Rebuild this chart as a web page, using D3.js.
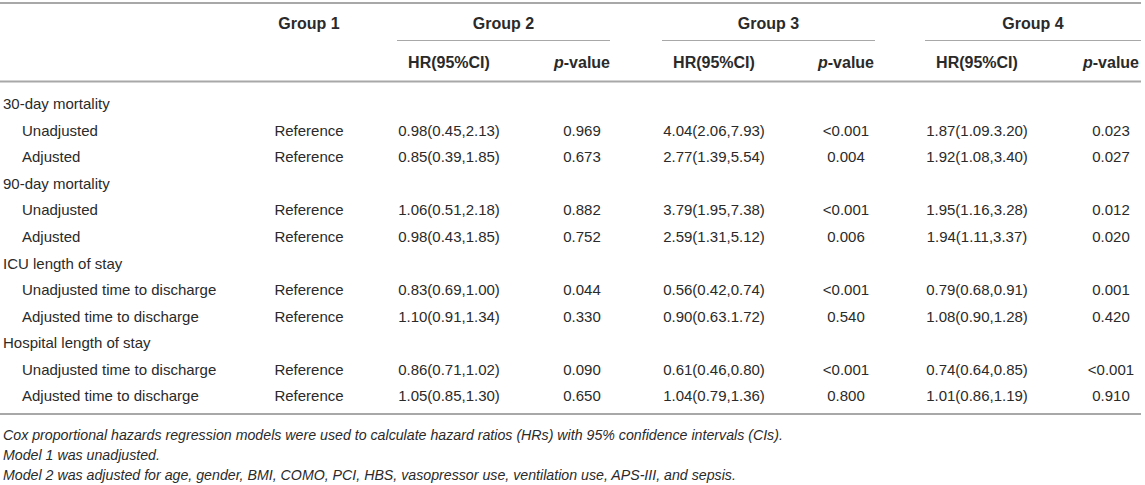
<!DOCTYPE html>
<html><head><meta charset="utf-8">
<script src="https://cdn.jsdelivr.net/npm/d3@7"></script>
<style>
html,body{margin:0;padding:0;background:#fff;}
svg{display:block;font-family:"Liberation Sans",Arial,Helvetica,sans-serif;}
</style></head>
<body><svg id="c" width="1145" height="485"></svg>
<script>
const groups = ["Group 1", "Group 2", "Group 3", "Group 4"];
const subHeaders = ["HR(95%CI)", "p-value"];
const rowLabels = ["30-day mortality", "Unadjusted", "Adjusted", "90-day mortality", "Unadjusted", "Adjusted",
  "ICU length of stay", "Unadjusted time to discharge", "Adjusted time to discharge",
  "Hospital length of stay", "Unadjusted time to discharge", "Adjusted time to discharge"];
const isSection = [true, false, false, true, false, false, true, false, false, true, false, false];
const group1 = ["", "Reference", "Reference", "", "Reference", "Reference", "", "Reference", "Reference", "", "Reference", "Reference"];
const g2HR = ["", "0.98(0.45,2.13)", "0.85(0.39,1.85)", "", "1.06(0.51,2.18)", "0.98(0.43,1.85)", "", "0.83(0.69,1.00)", "1.10(0.91,1.34)", "", "0.86(0.71,1.02)", "1.05(0.85,1.30)"];
const g2P = ["", "0.969", "0.673", "", "0.882", "0.752", "", "0.044", "0.330", "", "0.090", "0.650"];
const g3HR = ["", "4.04(2.06,7.93)", "2.77(1.39,5.54)", "", "3.79(1.95,7.38)", "2.59(1.31,5.12)", "", "0.56(0.42,0.74)", "0.90(0.63.1.72)", "", "0.61(0.46,0.80)", "1.04(0.79,1.36)"];
const g3P = ["", "<0.001", "0.004", "", "<0.001", "0.006", "", "<0.001", "0.540", "", "<0.001", "0.800"];
const g4HR = ["", "1.87(1.09.3.20)", "1.92(1.08,3.40)", "", "1.95(1.16,3.28)", "1.94(1.11,3.37)", "", "0.79(0.68,0.91)", "1.08(0.90,1.28)", "", "0.74(0.64,0.85)", "1.01(0.86,1.19)"];
const g4P = ["", "0.023", "0.027", "", "0.012", "0.020", "", "0.001", "0.420", "", "<0.001", "0.910"];
const notes = ["Cox proportional hazards regression models were used to calculate hazard ratios (HRs) with 95% confidence intervals (CIs).",
  "Model 1 was unadjusted.",
  "Model 2 was adjusted for age, gender, BMI, COMO, PCI, HBS, vasopressor use, ventilation use, APS-III, and sepsis."];

const svg = d3.select("#c");
const ink = "#2a2a2a", rule = "#a8a8a8";
const fs = 15, fsHead = 16, fsNote = 14.2;

// column scale (centers)
const colKeys = ["g1", "g2hr", "g2p", "g3hr", "g3p", "g4hr", "g4p"];
const colX = d3.scaleOrdinal().domain(colKeys).range([309, 449, 582, 714, 846, 977, 1111]);
const colData = {g1: group1, g2hr: g2HR, g2p: g2P, g3hr: g3HR, g3p: g3P, g4hr: g4HR, g4p: g4P};
// group header spans
const spanStart = d3.scaleOrdinal().domain(groups).range([0, 397, 662, 925]);
const spanEnd = d3.scaleOrdinal().domain(groups).range([0, 610, 875, 1141]);

const rowY = d3.scaleLinear().domain([0, rowLabels.length - 1]).range([104, 396]);

// rules
const rules = [{y: 3, x1: 0, x2: 1141}, {y: 81.5, x1: 0, x2: 1141}, {y: 414, x1: 0, x2: 1141}];
svg.selectAll("line.rule").data(rules).join("line").attr("class", "rule")
  .attr("x1", d => d.x1).attr("x2", d => d.x2).attr("y1", d => d.y).attr("y2", d => d.y)
  .attr("stroke", rule).attr("stroke-width", 1.8);
svg.selectAll("line.span").data(groups.slice(1)).join("line").attr("class", "span")
  .attr("x1", d => spanStart(d)).attr("x2", d => spanEnd(d)).attr("y1", 40.5).attr("y2", 40.5)
  .attr("stroke", rule).attr("stroke-width", 1.2);

// group headers
const groupCenters = [colX("g1"), (spanStart("Group 2") + spanEnd("Group 2")) / 2, (spanStart("Group 3") + spanEnd("Group 3")) / 2, (spanStart("Group 4") + spanEnd("Group 4")) / 2];
svg.selectAll("text.grp").data(groups).join("text").attr("class", "grp")
  .attr("x", (d, i) => groupCenters[i]).attr("y", 23).attr("dy", "0.35em")
  .attr("text-anchor", "middle").attr("font-weight", "bold").attr("font-size", fsHead).attr("fill", ink)
  .text(d => d);

// sub headers
const subCols = ["g2hr", "g2p", "g3hr", "g3p", "g4hr", "g4p"];
subCols.forEach((k, i) => {
  const t = svg.append("text").attr("x", colX(k)).attr("y", 62).attr("dy", "0.35em")
    .attr("text-anchor", "middle").attr("font-weight", "bold").attr("font-size", fsHead).attr("fill", ink);
  if (i % 2 === 0) t.text(subHeaders[0]);
  else {
    t.append("tspan").attr("font-style", "italic").text("p");
    t.append("tspan").text(subHeaders[1].slice(1));
  }
});

// row labels
svg.selectAll("text.rl").data(rowLabels).join("text").attr("class", "rl")
  .attr("x", (d, i) => isSection[i] ? 3 : 22).attr("y", (d, i) => rowY(i)).attr("dy", "0.35em")
  .attr("font-size", fs).attr("fill", ink).text(d => d);

// cells
colKeys.forEach(k => {
  svg.selectAll("text.c-" + k).data(colData[k]).join("text").attr("class", "c-" + k)
    .attr("x", colX(k)).attr("y", (d, i) => rowY(i)).attr("dy", "0.35em")
    .attr("text-anchor", "middle").attr("font-size", fs).attr("fill", ink)
    .text(d => d);
});

// notes
svg.selectAll("text.note").data(notes).join("text").attr("class", "note")
  .attr("x", 3).attr("y", (d, i) => 435 + i * 20).attr("dy", "0.35em")
  .attr("font-size", fsNote).attr("font-style", "italic").attr("fill", ink).text(d => d);
</script></body></html>
